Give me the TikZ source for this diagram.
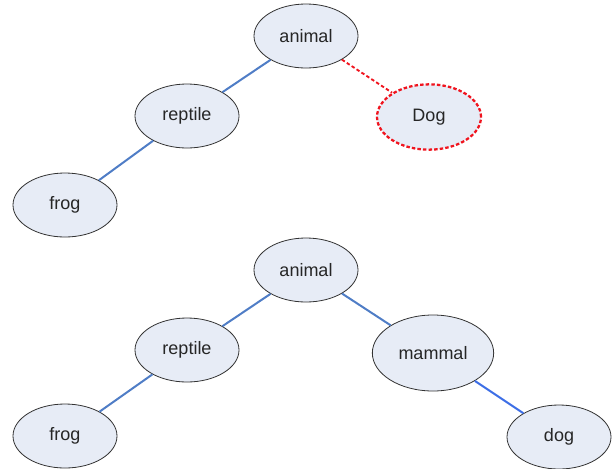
\documentclass[tikz,border=0pt]{standalone}
\usepackage{fontspec}
\setmainfont{Liberation Sans}
\usetikzlibrary{shapes.geometric}
\definecolor{nodefill}{HTML}{E7ECF6}
\definecolor{edgeblue}{HTML}{4F7DC6}
\definecolor{brightblue}{HTML}{3D6EE6}
\definecolor{newred}{HTML}{F0141E}
\tikzset{
    concept/.style={ellipse,draw=black!80,line width=0.6pt,fill=nodefill,text=black!85,
        minimum width=78pt,minimum height=48pt,inner sep=0pt,font=\fontsize{13.5}{15}\selectfont},
    bigconcept/.style={concept,minimum width=91pt,minimum height=57pt},
    newconcept/.style={concept,minimum height=49pt,draw=newred,line width=1.7pt,dash pattern=on 2.6pt off 1.6pt},
    isa/.style={edgeblue,line width=1.5pt},
    newisa/.style={newred,line width=1.4pt,dash pattern=on 2.6pt off 1.8pt}
}
\begin{document}
\begin{tikzpicture}[x=0.75pt,y=-0.75pt]
        \useasboundingbox (0,0) rectangle (613,468);
        %% Tree before, on top
        \node[concept] (animalA) at (306,36) {animal};
        \node[concept] (reptileA) at (187,116) {reptile};
        \node[concept] (frogA) at (65,205) {frog};
        \node[newconcept] (DogA) at (429,117) {Dog};
        \draw[isa] (animalA) -- (reptileA);
        \draw[isa] (reptileA) -- (frogA);
        \draw[newisa] (animalA) -- (DogA);
        %% Tree after, below
        \node[concept] (animalB) at (306,270) {animal};
        \node[concept] (reptileB) at (187,350) {reptile};
        \node[concept] (frogB) at (65,436) {frog};
        \node[bigconcept] (mammalB) at (433,353) {mammal};
        \node[concept] (dogB) at (559,437) {dog};
        \draw[isa] (animalB) -- (reptileB);
        \draw[isa] (reptileB) -- (frogB);
        \draw[isa] (animalB) -- (mammalB);
        \draw[isa,brightblue] (mammalB) -- (dogB);
    \end{tikzpicture}
\end{document}
